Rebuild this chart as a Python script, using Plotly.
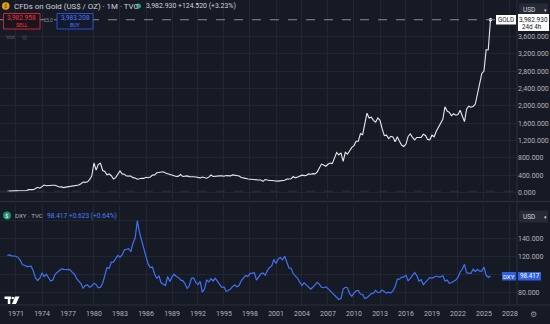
import pandas as pd
import plotly.graph_objects as go

# Quarterly closes (Jan, Apr, Jul, Oct), 1970 - Oct 2025
gold = [
    34.9, 35.9, 35.3, 37.5,
    37.9, 39.0, 42.7, 42.9,
    45.8, 49.0, 65.7, 64.9,
    65.1, 90.5, 120.2, 100.0,
    139.4, 172.2, 154.1, 158.8,
    175.8, 167.0, 166.7, 142.9,
    128.2, 128.4, 112.5, 123.2,
    132.3, 149.2, 144.1, 161.5,
    175.8, 170.9, 200.3, 242.6,
    233.7, 245.3, 296.5, 382.0,
    680.0, 517.4, 650.0, 675.0,
    506.5, 482.8, 408.0, 427.0,
    387.0, 310.0, 342.9, 423.3,
    495.0, 429.3, 422.2, 382.0,
    370.9, 376.8, 342.4, 333.5,
    306.7, 321.4, 327.0, 325.3,
    350.5, 340.9, 357.5, 401.0,
    405.9, 453.3, 462.5, 480.0,
    476.6, 451.2, 436.5, 411.3,
    394.0, 377.6, 368.3, 377.6,
    415.1, 367.8, 372.3, 382.1,
    366.7, 357.7, 362.9, 357.5,
    354.1, 336.4, 357.9, 339.3,
    330.5, 354.3, 401.8, 369.6,
    377.9, 376.9, 384.0, 383.1,
    374.9, 389.8, 383.4, 382.7,
    405.6, 391.7, 385.4, 379.5,
    345.5, 340.2, 326.4, 311.4,
    303.0, 308.7, 288.8, 292.3,
    287.1, 286.6, 255.6, 299.1,
    283.3, 275.8, 276.8, 264.5,
    265.6, 263.2, 265.5, 278.8,
    282.3, 308.2, 303.9, 316.9,
    368.1, 336.8, 354.8, 386.3,
    399.8, 388.5, 391.4, 428.4,
    422.2, 435.7, 429.0, 470.8,
    568.8, 654.5, 632.6, 604.5,
    650.5, 679.4, 665.5, 789.5,
    923.3, 865.0, 914.0, 718.0,
    927.3, 883.3, 954.0, 1040.0,
    1081.0, 1180.0, 1181.0, 1357.0,
    1332.0, 1556.0, 1828.0, 1716.0,
    1737.0, 1664.0, 1622.0, 1719.0,
    1663.0, 1472.0, 1313.0, 1323.0,
    1244.0, 1295.0, 1281.0, 1171.0,
    1283.0, 1183.0, 1095.0, 1062.0,
    1116.0, 1293.0, 1349.0, 1272.0,
    1211.0, 1268.0, 1269.0, 1271.0,
    1345.0, 1316.0, 1224.0, 1214.0,
    1321.0, 1284.0, 1413.0, 1513.0,
    1589.0, 1687.0, 1975.0, 1879.0,
    1847.0, 1769.0, 1814.0, 1783.0,
    1797.0, 1897.0, 1765.0, 1633.0,
    1928.0, 1990.0, 1965.0, 1983.0,
    2039.0, 2286.0, 2447.0, 2744.0,
    2798.0, 3288.0, 3290.0, 3982.93,
]

dxy = [
    121.5, 122.0, 121.0, 120.5,
    120.5, 119.0, 116.0, 111.0,
    110.5, 109.0, 109.5, 109.5,
    104.0, 96.5, 93.5, 96.0,
    102.0, 98.0, 100.5, 97.0,
    93.0, 94.0, 100.0, 102.5,
    104.5, 106.5, 106.0, 105.5,
    106.0, 105.5, 102.5, 100.5,
    95.5, 93.0, 90.0, 85.0,
    88.0, 88.5, 86.0, 87.5,
    90.5, 89.0, 85.5, 86.0,
    90.5, 99.0, 108.0, 107.0,
    114.0, 114.0, 118.0, 121.5,
    119.5, 122.0, 127.5, 128.0,
    129.0, 125.5, 135.0, 141.0,
    160.0, 147.0, 137.0, 128.0,
    120.0, 112.0, 108.0, 108.5,
    100.5, 96.0, 98.5, 91.0,
    89.0, 88.0, 98.0, 92.5,
    97.5, 100.5, 98.0, 97.0,
    94.0, 93.5, 90.0, 84.5,
    88.0, 96.0, 96.5, 91.5,
    89.0, 92.5, 80.5, 84.0,
    94.0, 92.0, 95.5, 93.0,
    96.0, 93.0, 89.0, 86.0,
    86.5, 81.5, 82.5, 84.0,
    87.0, 88.5, 86.5, 88.0,
    93.5, 96.5, 99.0, 98.0,
    101.5, 101.5, 102.5, 94.0,
    98.0, 101.0, 102.0, 99.5,
    104.5, 108.0, 109.5, 117.0,
    112.5, 117.5, 119.0, 116.5,
    120.5, 114.0, 107.5, 107.0,
    101.0, 98.5, 96.0, 91.5,
    88.0, 91.0, 88.5, 86.0,
    84.0, 86.0, 89.0, 91.5,
    89.5, 86.0, 85.5, 86.5,
    84.5, 82.0, 80.5, 77.0,
    74.5, 72.5, 73.5, 84.0,
    86.0, 85.5, 79.0, 76.0,
    79.5, 82.0, 82.5, 78.5,
    78.0, 73.5, 74.5, 77.0,
    79.0, 79.5, 82.5, 80.0,
    80.5, 83.0, 81.5, 79.5,
    80.5, 79.5, 82.0, 86.5,
    95.0, 95.0, 97.0, 97.5,
    99.5, 93.0, 96.0, 99.0,
    102.5, 99.0, 93.0, 94.5,
    89.0, 91.5, 94.5, 97.0,
    96.0, 97.5, 98.5, 97.5,
    97.5, 99.0, 93.0, 94.0,
    90.5, 91.0, 92.5, 94.0,
    97.0, 103.0, 106.0, 111.5,
    102.0, 101.5, 101.5, 106.0,
    103.5, 106.0, 104.0, 104.0,
    108.5, 99.5, 97.0, 98.417,
]

dates = pd.date_range("1970-01-01", periods=len(gold), freq="QS")
year_ticks = [f"{y}-01-01" for y in range(1971, 2029, 3)]
gold_ticks = list(range(0, 4000, 400))
dxy_ticks = [80, 100, 120, 140, 160]
dxy_labels = ["80.000", "", "120.000", "140.000", ""]

W, H = 550, 324
BG = "#161a25"
GRID = "#222633"
TXT = "#b2b5be"
FONT = "Roboto"
BLUE = "#3f72f5"
AX_X = 517  # left edge of the price scale


def px(x):
    return x / W


def py(y):
    return 1 - y / H


fig = go.Figure()
fig.add_trace(go.Scatter(x=dates, y=gold, mode="lines", xaxis="x", yaxis="y",
                         line=dict(color="#e8e9ee", width=1.1), hoverinfo="skip"))
fig.add_trace(go.Scatter(x=[dates[-1]], y=[gold[-1]], mode="markers", xaxis="x", yaxis="y",
                         marker=dict(color="#ffffff", size=3.5), hoverinfo="skip"))
fig.add_trace(go.Scatter(x=dates, y=dxy, mode="lines", xaxis="x2", yaxis="y2",
                         line=dict(color=BLUE, width=1.2), hoverinfo="skip"))

xrange = ["1969-02-26", "2028-10-23"]
common_x = dict(range=xrange, type="date", tickvals=year_ticks, tickformat="%Y",
                showgrid=True, gridcolor=GRID, gridwidth=1, zeroline=False,
                showline=False, ticks="", domain=[0, px(AX_X)])
fig.update_layout(
    width=W, height=H, margin=dict(l=0, r=0, t=0, b=0),
    paper_bgcolor=BG, plot_bgcolor=BG, showlegend=False,
    font=dict(family=FONT, color=TXT, size=7),
    xaxis=dict(anchor="y", showticklabels=False, **common_x),
    xaxis2=dict(anchor="y2", matches="x", showticklabels=True, ticklabelstandoff=3,
                tickfont=dict(size=7, color=TXT), **common_x),
    yaxis=dict(domain=[py(199), 1], range=[-150, 4438], side="right", anchor="x",
               tickvals=gold_ticks, tickformat=",.3f", showgrid=True, gridcolor=GRID,
               zeroline=False, ticks="", tickfont=dict(size=7, color=TXT)),
    yaxis2=dict(domain=[py(305), py(204)], range=[66.3, 178.6], side="right", anchor="x2",
                tickvals=dxy_ticks, ticktext=dxy_labels, showgrid=True, gridcolor=GRID,
                zeroline=False, ticks="", tickfont=dict(size=7, color=TXT)),
)

shapes = [
    # price scale border, time scale border and pane separator
    dict(type="line", xref="paper", yref="paper", x0=px(AX_X), x1=px(AX_X), y0=py(305), y1=1,
         line=dict(color="#2a2e39", width=1)),
    dict(type="line", xref="paper", yref="paper", x0=0, x1=1, y0=py(305), y1=py(305),
         line=dict(color="#2a2e39", width=1)),
    dict(type="line", xref="paper", yref="paper", x0=0, x1=1, y0=py(201.5), y1=py(201.5),
         line=dict(color="#2a2e39", width=1.5)),
    # last price line
    dict(type="line", xref="paper", yref="y", x0=0, x1=px(AX_X), y0=gold[-1], y1=gold[-1],
         line=dict(color="#8a8d96", width=1, dash="dash")),
    # zero baseline
    dict(type="line", xref="paper", yref="y", x0=0, x1=px(AX_X), y0=30, y1=30,
         line=dict(color="#2c3040", width=1, dash="dash")),
    # SELL / BUY boxes
    dict(type="rect", xref="paper", yref="paper", x0=px(3.5), x1=px(40), y0=py(29), y1=py(13.5),
         line=dict(color="#c3293a", width=1), fillcolor="#1b141c"),
    dict(type="rect", xref="paper", yref="paper", x0=px(57), x1=px(93), y0=py(29), y1=py(13.5),
         line=dict(color="#2a4fc9", width=1), fillcolor="#141a2e"),
    # currency selectors
    dict(type="rect", xref="paper", yref="paper", x0=px(519), x1=px(548), y0=py(15.5), y1=py(3.5),
         line=dict(width=0), fillcolor="#262a36"),
    dict(type="rect", xref="paper", yref="paper", x0=px(519), x1=px(548), y0=py(222.5), y1=py(210.5),
         line=dict(width=0), fillcolor="#262a36"),
    # last value tags
    dict(type="rect", xref="paper", yref="paper", x0=px(496), x1=px(516), y0=py(24.5), y1=py(15),
         line=dict(width=0), fillcolor="#ffffff"),
    dict(type="rect", xref="paper", yref="paper", x0=px(518), x1=px(549), y0=py(31), y1=py(14),
         line=dict(width=0), fillcolor="#ffffff"),
    dict(type="rect", xref="paper", yref="paper", x0=px(502), x1=px(516), y0=py(280.5), y1=py(272),
         line=dict(width=0), fillcolor="#2f5fe6"),
    dict(type="rect", xref="paper", yref="paper", x0=px(518), x1=px(541), y0=py(280.5), y1=py(272),
         line=dict(width=0), fillcolor="#2f5fe6"),
    # symbol icons
    dict(type="circle", xref="paper", yref="paper", x0=px(2), x1=px(9.5), y0=py(9.8), y1=py(2.3),
         line=dict(width=0), fillcolor="#e8a317"),
    dict(type="circle", xref="paper", yref="paper", x0=px(136), x1=px(141), y0=py(8.5), y1=py(3.5),
         line=dict(width=0), fillcolor="#1f9d74"),
    dict(type="circle", xref="paper", yref="paper", x0=px(3), x1=px(11), y0=py(219.5), y1=py(211.5),
         line=dict(width=0), fillcolor="#1f8f6a"),
    # logo
    dict(type="rect", xref="paper", yref="paper", x0=px(4.5), x1=px(11), y0=py(299), y1=py(296.5),
         line=dict(width=0), fillcolor="#ffffff"),
    dict(type="rect", xref="paper", yref="paper", x0=px(7.8), x1=px(10.3), y0=py(304), y1=py(297),
         line=dict(width=0), fillcolor="#ffffff"),
    dict(type="circle", xref="paper", yref="paper", x0=px(11.5), x1=px(14), y0=py(299.3), y1=py(296.8),
         line=dict(width=0), fillcolor="#ffffff"),
    dict(type="path", xref="paper", yref="paper",
         path=f"M {px(15)} {py(296.5)} L {px(19.5)} {py(296.5)} L {px(16)} {py(304)} L {px(12)} {py(304)} Z",
         line=dict(width=0), fillcolor="#ffffff"),
]
fig.update_layout(shapes=shapes)


def note(x, y, text, color=TXT, size=7, anchor="left", **kw):
    fig.add_annotation(xref="paper", yref="paper", x=px(x), y=py(y), text=text, showarrow=False,
                       xanchor=anchor, yanchor="middle", font=dict(family=FONT, size=size, color=color),
                       **kw)


note(5.75, 6.2, "$", color="#5a3a00", size=5.5, anchor="center")
note(12, 6.2, "CFDs on Gold (US$ / OZ) · 1M · TVC", color="#d1d4dc", size=7.9)
note(144, 6.2, "3,982.930 +124.520 (+3.23%)", color="#d1d4dc", size=6.9)
note(21.7, 18.3, "3,982.958", color="#f23645", size=6.5, anchor="center")
note(21.7, 24.8, "SELL", color="#f23645", size=5.2, anchor="center")
note(75, 18.3, "3,983.208", color="#4f7df9", size=6.5, anchor="center")
note(75, 24.8, "BUY", color="#4f7df9", size=5.2, anchor="center")
note(48.5, 20.5, "25.0", color="#8b8e97", size=4.6, anchor="center")
note(4, 37, "Vol", color="#5d606b", size=6.2)
note(19.5, 37, "◎", color="#5d606b", size=6)

note(521, 9.5, "USD", color="#d1d4dc", size=6.5)
note(545, 9.5, "▾", color="#d1d4dc", size=5, anchor="center")
note(521, 216.5, "USD", color="#d1d4dc", size=6.5)
note(545, 216.5, "▾", color="#d1d4dc", size=5, anchor="center")

note(506, 19.8, "GOLD", color="#131722", size=6.3, anchor="center")
note(533.5, 19.5, "3,982.930", color="#131722", size=6.5, anchor="center")
note(520, 26.5, "24d 4h", color="#131722", size=6.3)
note(509, 276.3, "DXY", color="#ffffff", size=6, anchor="center")
note(529.5, 276.3, "98.417", color="#ffffff", size=6.3, anchor="center")

note(7, 215.7, "$", color="#ffffff", size=6, anchor="center")
note(13, 215.7, "DXY · TVC", color="#b2b5be", size=6.2)
note(45, 215.7, "98.417 +0.623 (+0.64%)", color="#4f7df9", size=6.6)

note(533, 314, "⚙", color="#9598a1", size=8, anchor="center")

fig.write_html("out.html")
